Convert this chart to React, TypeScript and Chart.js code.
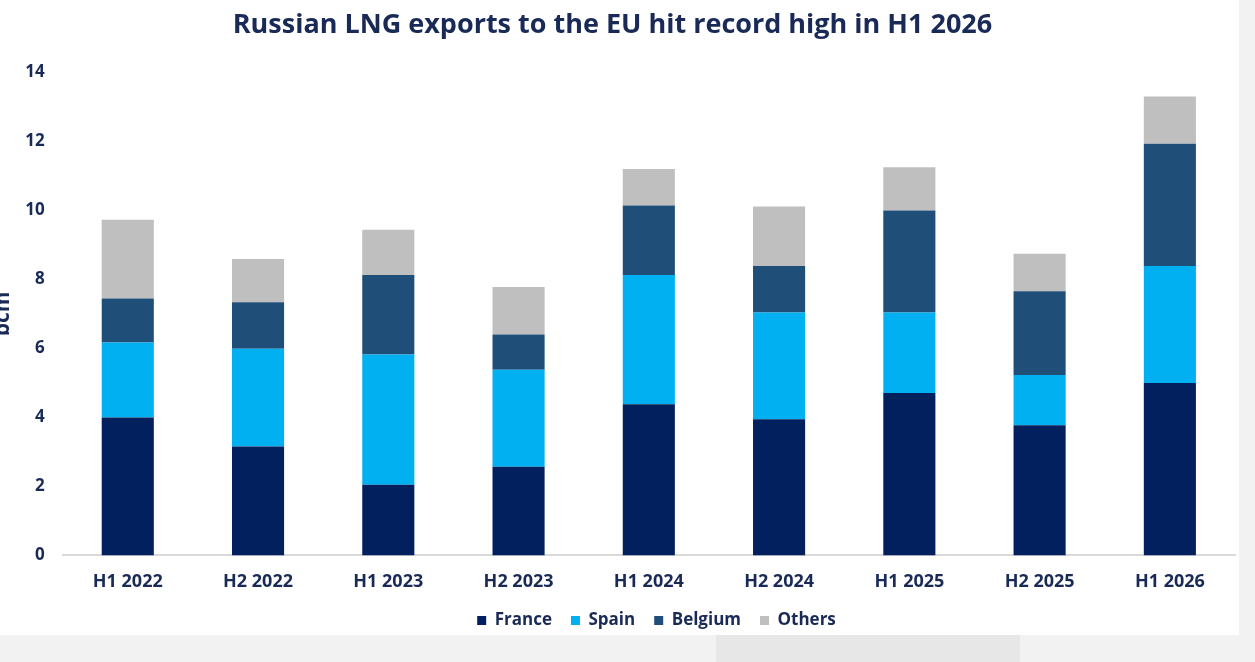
import { useEffect, useRef } from "react";
import Chart from "chart.js/auto";
import type { Plugin } from "chart.js";

const periods = ["H1 2022", "H2 2022", "H1 2023", "H2 2023", "H1 2024", "H2 2024", "H1 2025", "H2 2025", "H1 2026"];
const france = [4.0, 3.16, 2.05, 2.57, 4.38, 3.95, 4.71, 3.77, 5.0];
const spain = [2.17, 2.83, 3.77, 2.81, 3.75, 3.09, 2.33, 1.46, 3.39];
const belgium = [1.28, 1.35, 2.31, 1.02, 2.01, 1.35, 2.96, 2.43, 3.54];
const others = [2.28, 1.25, 1.31, 1.38, 1.06, 1.72, 1.25, 1.08, 1.37];

const navy = "#1a2a57";

// nudge the legend right and down, like the original slide
const legendShift: Plugin<"bar"> = {
    id: "legendShift",
    afterLayout(chart) {
        const legend = chart.legend;
        if (!legend) return;
        legend.left += 44;
        legend.right += 44;
        legend.top += 4;
        legend.bottom += 4;
    },
};

function LngChart() {
    const canvasRef = useRef<HTMLCanvasElement | null>(null);
    const chartRef = useRef<Chart<"bar"> | null>(null);

    useEffect(() => {
        const canvas = canvasRef.current;
        if (!canvas) return;
        if (chartRef.current) chartRef.current.destroy();

        Chart.defaults.font.family = "'Open Sans', sans-serif";

        chartRef.current = new Chart(canvas, {
            type: "bar",
            data: {
                labels: periods,
                datasets: [
                    { label: "France", data: france, backgroundColor: "#03205e" },
                    { label: "Spain", data: spain, backgroundColor: "#00b0f0" },
                    { label: "Belgium", data: belgium, backgroundColor: "#1f4e79" },
                    { label: "Others", data: others, backgroundColor: "#bfbfbf" },
                ],
            },
            options: {
                animation: false,
                responsive: true,
                maintainAspectRatio: false,
                datasets: {
                    bar: { categoryPercentage: 1, barPercentage: 0.4 },
                },
                layout: { padding: { top: 0, right: 4, bottom: 0, left: 0 } },
                scales: {
                    x: {
                        stacked: true,
                        grid: { display: false },
                        border: { color: "#d9d9d9", width: 2 },
                        ticks: {
                            color: navy,
                            font: { size: 18, weight: "bold" },
                            padding: 8,
                        },
                        afterFit(scale) {
                            scale.height -= 12;
                        },
                    },
                    y: {
                        stacked: true,
                        min: 0,
                        max: 14,
                        grid: { display: false },
                        border: { display: false },
                        ticks: {
                            stepSize: 2,
                            color: navy,
                            font: { size: 17, weight: "bold" },
                            padding: 10,
                        },
                        title: {
                            display: true,
                            text: "bcm",
                            color: navy,
                            font: { size: 21, weight: "bold" },
                            padding: 0,
                        },
                    },
                },
                plugins: {
                    title: {
                        display: true,
                        text: "Russian LNG exports to the EU hit record high in H1 2026",
                        color: navy,
                        font: { size: 27, weight: "bold" },
                        padding: { top: 9, bottom: 31 },
                    },
                    legend: {
                        position: "bottom",
                        labels: {
                            boxWidth: 9,
                            boxHeight: 9,
                            padding: 19,
                            color: navy,
                            font: { size: 17, weight: "bold" },
                        },
                    },
                    tooltip: { enabled: false },
                },
            },
            plugins: [legendShift],
        });

        return () => {
            if (chartRef.current) {
                chartRef.current.destroy();
                chartRef.current = null;
            }
        };
    }, []);

    return <canvas ref={canvasRef} />;
}

export default function App() {
    return (
        <div
            style={{
                position: "fixed",
                left: 0,
                top: 0,
                width: 1255,
                height: 662,
                background: "#f2f2f2",
                overflow: "hidden",
            }}
        >
            <div
                style={{
                    position: "absolute",
                    left: 0,
                    top: 0,
                    width: 1239,
                    height: 635,
                    background: "#ffffff",
                    overflow: "hidden",
                }}
            >
                <div style={{ position: "absolute", left: -10, top: 0, width: 1249, height: 635 }}>
                    <LngChart />
                </div>
            </div>
            <div
                style={{
                    position: "absolute",
                    left: 716,
                    top: 635,
                    width: 304,
                    height: 27,
                    background: "#e6e7e6",
                }}
            />
        </div>
    );
}
